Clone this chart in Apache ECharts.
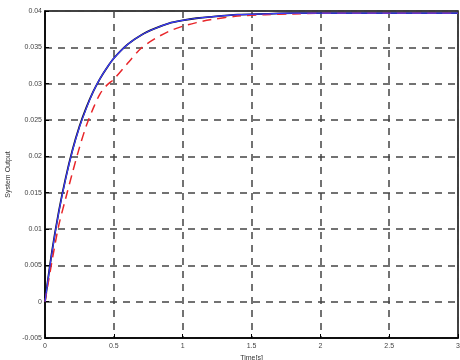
<!DOCTYPE html>
<html><head><meta charset="utf-8">
<script src="https://cdn.jsdelivr.net/npm/echarts@6/dist/echarts.min.js"></script>
<style>html,body{margin:0;padding:0;background:#fff}#c{width:460px;height:360px}</style>
</head><body><div id="c"></div>
<script>
const times = [0,0.05,0.1,0.15,0.2,0.25,0.3,0.35,0.4,0.45,0.5,0.6,0.7,0.8,0.9,1.0,1.1,1.2,1.4,1.6,1.8,2.0,2.5,3.0];
const blackSeries = [0,0.0068,0.0124,0.0170,0.0209,0.0241,0.0267,0.0289,0.0307,0.0322,0.0335,0.0354,0.0367,0.0376,0.0383,0.0387,0.0390,0.0392,0.0395,0.0396,0.0397,0.0397,0.0397,0.0397];
const blueSeries  = [0,0.0067,0.0123,0.0169,0.0208,0.0240,0.0266,0.0289,0.0307,0.0322,0.0335,0.0354,0.0367,0.0376,0.0383,0.0387,0.0390,0.0392,0.0395,0.0396,0.0397,0.0397,0.0397,0.0397];
const redSeries   = [0,0.0055,0.0105,0.0142,0.0178,0.0212,0.0242,0.0266,0.0286,0.0298,0.0306,0.0328,0.0349,0.0362,0.0372,0.0379,0.0384,0.0388,0.0393,0.0395,0.0396,0.0397,0.0397,0.0397];
const xTitle = 'Time[s]';
const yTitle = 'System Output';

const pair = arr => times.map((t,i)=>[t,arr[i]]);
const chart = echarts.init(document.getElementById('c'), null, {renderer:'canvas'});
const fmt = v => String(+(+v).toFixed(3));
chart.setOption({
  animation:false,
  backgroundColor:'#fff',
  grid:{left:45,right:2,top:11,bottom:22,containLabel:false,outerBoundsMode:'none',show:true,borderColor:'#000',borderWidth:1.5,backgroundColor:'transparent'},
  xAxis:{type:'value',min:0,max:3,interval:0.5,
    name:xTitle,nameLocation:'middle',nameGap:14,nameTextStyle:{fontSize:7,color:'#333',fontFamily:'Liberation Sans'},
    axisLine:{show:true,onZero:false,lineStyle:{color:'#000',width:1.5}},
    axisTick:{show:true,inside:true,length:4,lineStyle:{color:'#000'}},
    axisLabel:{fontSize:7,color:'#444',margin:5,fontFamily:'Liberation Sans',formatter:fmt},
    splitLine:{show:true,lineStyle:{color:'#444',type:[7,6],width:1.5}}},
  yAxis:{type:'value',min:-0.005,max:0.04,interval:0.005,
    name:yTitle,nameLocation:'middle',nameGap:33,nameTextStyle:{fontSize:7,color:'#333',fontFamily:'Liberation Sans'},
    axisLine:{show:true,onZero:false,lineStyle:{color:'#000',width:1.5}},
    axisTick:{show:true,inside:true,length:4,lineStyle:{color:'#000'}},
    axisLabel:{fontSize:7,color:'#444',margin:3,fontFamily:'Liberation Sans',formatter:fmt},
    splitLine:{show:true,lineStyle:{color:'#444',type:[7,6],width:1.5}}},
  series:[
    {type:'line',data:pair(blackSeries),smooth:0.3,showSymbol:false,lineStyle:{color:'#111',width:1.8},z:2},
    {type:'line',data:pair(redSeries),smooth:0.3,showSymbol:false,lineStyle:{color:'#e8262a',width:1.5,type:[9,6]},z:3},
    {type:'line',data:pair(blueSeries),smooth:0.3,showSymbol:false,lineStyle:{color:'#3a3aff',width:1.2},z:4}
  ]
});
</script></body></html>
